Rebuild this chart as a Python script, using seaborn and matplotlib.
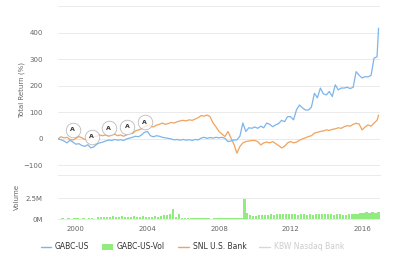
import matplotlib
matplotlib.use("Agg")
import matplotlib.pyplot as plt
import seaborn as sns
import numpy as np
import pandas as pd
from matplotlib.lines import Line2D
from matplotlib.patches import Patch

# ---- data, one value every two months from 1999 ----
gabc = [0, -3, -8, -15, -5, -12,
        -20, -18, -25, -28, -22, -34,
        -30, -20, -15, -12, -8, -4,
        -6, -2, -5, -3, -6, 0,
        3, 6, 10, 8, 15, 25,
        28, 12, 8, 12, 10, 6,
        4, 2, 0, -4, -2, -5,
        -2, -5, -3, -6, -2, -4,
        3, 6, 2, 5, 3, 6,
        4, 6, 2, -10, -8, -4,
        -4, 10, 60, 28, 42, 40,
        45, 40, 48, 42, 60, 55,
        46, 53, 58, 70, 65, 84,
        84, 72, 110, 128, 117, 109,
        109, 120, 172, 155, 192, 170,
        166, 179, 160, 204, 185, 192,
        192, 195, 190, 195, 254, 240,
        230, 235, 234, 240, 305, 310,
        418]
snl = [0, 8, 4, 6, -2, -4,
       2, 9, 4, -2, -4, 5,
       8, 10, 15, 12, 15, 10,
       15, 18, 12, 15, 10, 15,
       23, 20, 30, 34, 38, 45,
       53, 48, 45, 52, 55, 60,
       55, 58, 62, 60, 65, 68,
       70, 68, 72, 70, 75, 80,
       88, 86, 90, 84, 60, 45,
       28, 18, 9, 28, 4, -20,
       -54, -29, -15, -10, -8, -6,
       -6, -10, -23, -15, -12, -15,
       -10, -18, -25, -34, -28, -15,
       -10, -15, -12, -5, 0, 4,
       9, 12, 22, 25, 28, 30,
       34, 32, 36, 38, 42, 40,
       46, 50, 48, 55, 59, 56,
       34, 45, 53, 48, 60, 70,
       90]
line_t = list(np.arange(1999, 2017, 1 / 6)) + [2016.92]

vol_m = [0.05, 0.08, 0.05, 0.1, 0.06, 0.08,
         0.1, 0.06, 0.08, 0.05, 0.1, 0.08,
         0.06, 0.25, 0.2, 0.3, 0.25, 0.3,
         0.35, 0.25, 0.3, 0.4, 0.3, 0.25,
         0.3, 0.35, 0.25, 0.3, 0.35, 0.3,
         0.25, 0.3, 0.35, 0.3, 0.4, 0.45,
         0.5, 0.6, 1.2, 0.3, 0.6, 0.15,
         0.1, 0.12, 0.08, 0.1, 0.12, 0.1,
         0.08, 0.1, 0.12, 0.06, 0.1, 0.08,
         0.1, 0.08, 0.12, 0.15, 0.1, 0.12,
         0.1, 0.15, 2.4, 0.7, 0.45, 0.4,
         0.4, 0.45, 0.5, 0.45, 0.5, 0.55,
         0.5, 0.55, 0.6, 0.55, 0.65, 0.6,
         0.55, 0.6, 0.5, 0.55, 0.6, 0.5,
         0.55, 0.5, 0.6, 0.55, 0.65, 0.6,
         0.6, 0.55, 0.5, 0.6, 0.55, 0.5,
         0.5, 0.6, 0.55, 0.65, 0.6, 0.7,
         0.75, 0.8, 0.7, 0.85, 0.7, 0.8]
vol_t = np.arange(1999, 2017, 1 / 6) + 1 / 12

ann_t = [1999.83, 2000.88, 2001.84, 2002.87, 2003.85]
ann_v = [34, 9, 40, 46, 62]
ann_txt = ["A", "A", "A", "A", "A"]

xticks = [2000, 2004, 2008, 2012, 2016]
ret_ticks = [-100, 0, 100, 200, 300, 400]
vol_ticks = [0, 2.5]
vol_labels = ["0M", "2.5M"]

BLUE = "#7cb5ec"
ORANGE = "#f0a35e"
GREEN = "#90ed7d"
LIGHT = "#d8d8d8"
TXT = "#666666"
GRID = "#e6e6e6"

sns.set_theme(style="white")
plt.rcParams['font.family'] = ['DejaVu Sans']

fig = plt.figure(figsize=(4.0, 2.58), dpi=100)
ax = fig.add_axes([0.145, 0.322, 0.805, 0.653])
axv = fig.add_axes([0.145, 0.151, 0.805, 0.132])

df = pd.DataFrame({"t": line_t, "GABC-US": gabc, "SNL U.S. Bank": snl})
sns.lineplot(data=df, x="t", y="SNL U.S. Bank", ax=ax, color=ORANGE, lw=0.9)
sns.lineplot(data=df, x="t", y="GABC-US", ax=ax, color=BLUE, lw=0.9)

ax.scatter(ann_t, ann_v, s=110, facecolor="white", edgecolor="#aaaaaa",
           linewidth=0.6, zorder=5, alpha=0.8)
for xt, yv, s in zip(ann_t, ann_v, ann_txt):
    ax.text(xt, yv, s, ha="center", va="center", fontsize=4.5,
            fontweight="bold", color="#333333", zorder=6)

ax.set_xlim(1999, 2017)
ax.set_ylim(-136, 500)
ax.set_yticks(ret_ticks)
ax.set_xticks(xticks)
ax.set_xticklabels([])
ax.axhline(500, color=GRID, lw=0.6, zorder=0)
ax.grid(axis="y", color=GRID, lw=0.6)
ax.grid(axis="x", visible=False)
for s in ["top", "right", "left"]:
    ax.spines[s].set_visible(False)
ax.spines["bottom"].set_color(GRID)
ax.spines["bottom"].set_linewidth(0.6)
ax.tick_params(axis="y", labelsize=5, colors=TXT, length=0, pad=11)
ax.tick_params(axis="x", length=0)
ax.set_xlabel("")
ax.set_ylabel("")

axv.bar(vol_t, vol_m, width=0.13, color=GREEN, linewidth=0)
axv.set_xlim(1999, 2017)
axv.set_ylim(0, 4.05)
axv.set_yticks(vol_ticks)
axv.set_yticklabels(vol_labels)
axv.set_xticks(xticks)
axv.set_xticklabels([str(x) for x in xticks])
axv.grid(axis="y", color=GRID, lw=0.6)
axv.grid(axis="x", visible=False)
for s in ["top", "right", "left"]:
    axv.spines[s].set_visible(False)
axv.spines["bottom"].set_color(GRID)
axv.spines["bottom"].set_linewidth(0.6)
axv.tick_params(axis="y", labelsize=5, colors=TXT, length=0, pad=11)
axv.tick_params(axis="x", labelsize=5, colors=TXT, length=2, width=0.5,
                color="#cccccc", pad=3)

fig.text(22 / 400, 1 - 90 / 258, "Total Return (%)", rotation=90,
         ha="center", va="center", fontsize=5, color=TXT)
fig.text(17 / 400, 1 - 197 / 258, "Volume", rotation=90,
         ha="center", va="center", fontsize=5, color=TXT)

handles = [Line2D([], [], color=BLUE, lw=1),
           Patch(facecolor=GREEN, edgecolor="none"),
           Line2D([], [], color=ORANGE, lw=1),
           Line2D([], [], color=LIGHT, lw=1)]
labels = ["GABC-US", "GABC-US-Vol", "SNL U.S. Bank", "KBW Nasdaq Bank"]
leg = fig.legend(handles, labels, loc="center", bbox_to_anchor=(0.481, 0.043),
                 ncol=4, frameon=False, fontsize=5.5, handlelength=1.4,
                 handleheight=0.9, columnspacing=1.7, handletextpad=0.5)
for txt, c in zip(leg.get_texts(), ["#333333", "#333333", "#333333", "#cccccc"]):
    txt.set_color(c)

fig.savefig("out.png", dpi=100)
